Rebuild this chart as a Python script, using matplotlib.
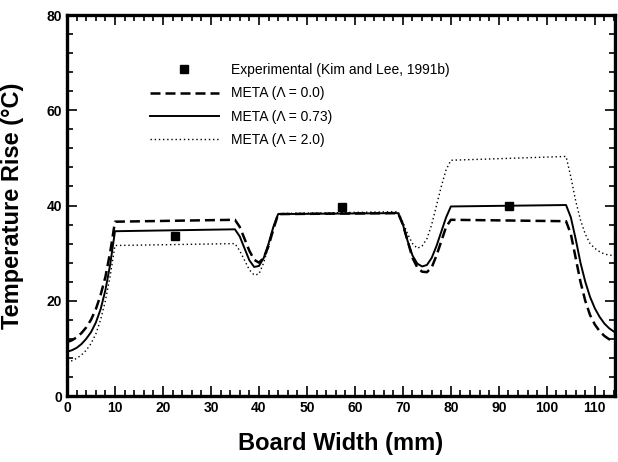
import matplotlib
matplotlib.use("Agg")
import matplotlib.pyplot as plt
from matplotlib.ticker import MultipleLocator

plt.rcParams["font.family"] = ["Liberation Sans", "DejaVu Sans"]

# data
x_exp = [22.5, 57.3, 92.2]
y_exp = [33.5, 39.7, 40.0]

x_meta = [0, 1, 2, 3, 4, 5, 6, 7, 8, 9, 10,
          35, 36, 37, 38, 39, 40, 41, 42, 43, 44,
          69, 70, 71, 72, 73, 74, 75, 76, 77, 78, 79, 80,
          104, 105, 106, 107, 108, 109, 110, 111, 112, 113, 114]

y_lam00 = [11.3, 11.7, 12.3, 13.2, 14.4, 16.0, 18.2, 21.2, 25.0, 30.2, 36.6,
           37.0, 35.5, 33.0, 30.5, 28.6, 28.0, 29.0, 31.5, 35.0, 38.2,
           38.4, 36.0, 32.5, 29.0, 27.0, 26.1, 26.0, 27.0, 29.5, 32.5, 35.5, 37.0,
           36.7, 34.0, 29.0, 24.0, 20.0, 17.0, 15.0, 13.6, 12.6, 11.9, 11.4]

y_lam073 = [9.3, 9.6, 10.1, 10.9, 12.0, 13.4, 15.4, 18.2, 22.2, 27.6, 34.6,
            35.0, 33.5, 31.0, 28.5, 27.1, 27.3, 29.0, 32.0, 35.5, 38.2,
            38.4, 36.0, 32.5, 29.5, 27.8, 27.2, 27.5, 29.0, 31.5, 34.5, 37.5, 39.8,
            40.1, 37.5, 33.0, 28.0, 24.0, 20.8, 18.4, 16.6, 15.2, 14.2, 13.5]

y_lam20 = [7.2, 7.4, 7.9, 8.6, 9.6, 11.0, 13.0, 16.0, 20.0, 25.2, 31.6,
           32.0, 30.5, 28.5, 26.5, 25.4, 25.6, 28.0, 31.5, 35.5, 38.3,
           38.7, 36.5, 34.0, 32.0, 31.0, 31.5, 33.0, 36.0, 40.0, 44.0, 47.5, 49.5,
           50.3, 46.0, 41.0, 37.0, 34.0, 32.0, 31.0, 30.3, 29.8, 29.6, 29.5]

fig = plt.figure(figsize=(6.18, 4.62), dpi=100)
ax = fig.add_axes([67 / 618, 66 / 462, 548 / 618, 381 / 462])

ax.plot(x_exp, y_exp, "s", color="black", markersize=6, label="Experimental (Kim and Lee, 1991b)")
ax.plot(x_meta, y_lam00, color="black", lw=1.8, linestyle=(0, (4, 2)), label="META (\u039b = 0.0)")
ax.plot(x_meta, y_lam073, color="black", lw=1.4, label="META (\u039b = 0.73)")
ax.plot(x_meta, y_lam20, color="black", lw=1.0, linestyle=(0, (1, 2)), label="META (\u039b = 2.0)")

ax.set_xlim(0, 114.2)
ax.set_ylim(0, 80)
ax.xaxis.set_major_locator(MultipleLocator(10))
ax.xaxis.set_minor_locator(MultipleLocator(2))
ax.yaxis.set_major_locator(MultipleLocator(20))
ax.yaxis.set_minor_locator(MultipleLocator(4))
ax.tick_params(which="both", direction="in", top=True, right=True, width=1.2)
ax.tick_params(which="major", length=7)
ax.tick_params(which="minor", length=4)
for lab in ax.get_xticklabels() + ax.get_yticklabels():
    lab.set_fontweight("bold")
    lab.set_fontsize(10)
for s in ax.spines.values():
    s.set_linewidth(2.4)

ax.set_xlabel("Board Width (mm)", fontsize=17, fontweight="bold", labelpad=12)
ax.set_ylabel("Temperature Rise (\u00b0C)", fontsize=17, fontweight="bold", labelpad=16)

ax.legend(loc="upper left", bbox_to_anchor=(0.151, 0.874), frameon=False,
          handlelength=5.0, handletextpad=0.85, labelspacing=0.68, borderpad=0,
          borderaxespad=0, fontsize=10, numpoints=1)

fig.savefig("out.png", dpi=100)
